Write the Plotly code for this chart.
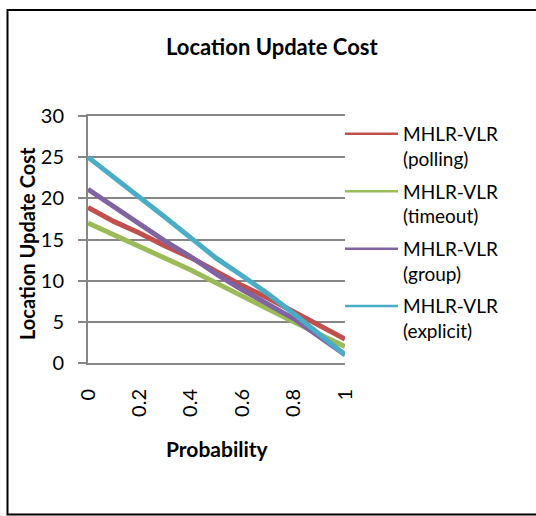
import plotly.graph_objects as go

# Probability values (x) and the location update cost for each scheme
probability = [0, 0.1, 0.2, 0.3, 0.4, 0.5, 0.6, 0.7, 0.8, 0.9, 1.0]
polling = [18.9, 17.2, 15.8, 14.2, 12.8, 11.1, 9.4, 7.9, 6.2, 4.6, 2.9]
timeout = [17.0, 15.6, 14.2, 12.7, 11.3, 9.7, 8.1, 6.6, 5.0, 3.5, 2.0]
group = [21.1, 19.0, 16.8, 14.8, 12.9, 10.8, 8.9, 7.2, 5.4, 3.2, 1.0]
explicit = [25.0, 22.6, 20.2, 17.7, 15.2, 12.7, 10.6, 8.4, 6.0, 3.5, 1.0]

series_names = ["MHLR-VLR<br>(polling)", "MHLR-VLR<br>(timeout)",
                "MHLR-VLR<br>(group)", "MHLR-VLR<br>(explicit)"]
series_values = [polling, timeout, group, explicit]
series_colors = ["#C0504D", "#9BBB59", "#8064A2", "#4BACC6"]

x_ticks = [0, 0.2, 0.4, 0.6, 0.8, 1]
x_tick_text = ["0", "0.2", "0.4", "0.6", "0.8", "1"]
y_ticks = [0, 5, 10, 15, 20, 25, 30]

FONT = "Lato, Carlito, Calibri, sans-serif"
GRID = "#868686"

fig = go.Figure()
for i, (name, vals, col) in enumerate(zip(series_names, series_values, series_colors)):
    # the plotted series
    fig.add_trace(go.Scatter(
        x=probability, y=vals, mode="lines", name=name,
        legendgroup=f"g{i}", showlegend=False,
        line=dict(color=col, width=5),
    ))
    # legend entry with a thinner key line
    fig.add_trace(go.Scatter(
        x=[None], y=[None], mode="lines", name=name,
        legendgroup=f"g{i}", showlegend=True,
        line=dict(color=col, width=2.5),
    ))

# plot-area geometry in pixels
W, H = 536, 516
L, R, T, B = 88, 345, 116, 363


def px(xpix):
    return (xpix - L) / (R - L)


def py(ypix):
    return (B - ypix) / (B - T)


fig.update_layout(
    width=W, height=H,
    margin=dict(l=L, r=W - R, t=T, b=H - B, pad=0),
    paper_bgcolor="white", plot_bgcolor="white",
    font=dict(family=FONT, color="black"),
    showlegend=True,
    legend=dict(
        x=px(340), y=py(115), xanchor="left", yanchor="top",
        valign="top", font=dict(size=19, family=FONT),
        itemwidth=53,
        tracegroupgap=5, bgcolor="rgba(0,0,0,0)",
    ),
    xaxis=dict(
        range=[0, 1], tickvals=x_ticks, ticktext=x_tick_text,
        tickangle=-90, showgrid=False, zeroline=False,
        showline=True, mirror=True, linecolor=GRID, linewidth=2,
        ticks="", tickfont=dict(size=20, family=FONT),
        ticklabelstandoff=16,
    ),
    yaxis=dict(
        range=[0, 30], tickvals=y_ticks, showgrid=True, gridcolor=GRID,
        gridwidth=2, zeroline=False, showline=True, linecolor=GRID,
        linewidth=2, ticks="outside", ticklen=8, tickwidth=2,
        tickcolor=GRID, tickfont=dict(size=20, family=FONT),
        ticklabelstandoff=10,
    ),
    shapes=[
        # chart border
        dict(type="rect", xref="paper", yref="paper",
             x0=px(7.5), x1=px(545), y0=py(514.5), y1=py(10),
             line=dict(color="black", width=2), layer="below"),
    ],
    annotations=[
        dict(text="<b>Location Update Cost</b>", xref="paper", yref="paper",
             x=px(272), y=py(46), xanchor="center", yanchor="middle",
             showarrow=False, font=dict(size=22, family=FONT)),
        dict(text="<b>Location Update Cost</b>", xref="paper", yref="paper",
             x=px(27), y=py(244), xanchor="center", yanchor="middle",
             textangle=-90, showarrow=False, font=dict(size=20, family=FONT)),
        dict(text="<b>Probability</b>", xref="paper", yref="paper",
             x=px(217), y=py(448), xanchor="center", yanchor="middle",
             showarrow=False, font=dict(size=21, family=FONT)),
    ],
)

fig.write_html("out.html")
